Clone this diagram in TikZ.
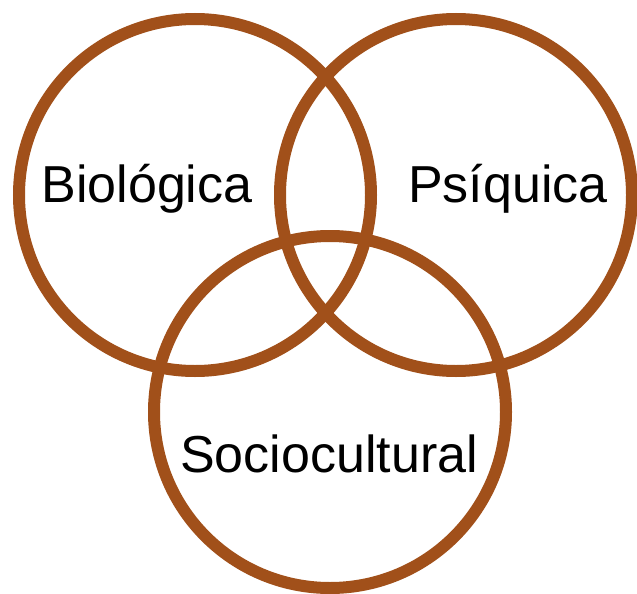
\documentclass[tikz,border=0pt]{standalone}
\usepackage{fontspec}
\setmainfont{Liberation Sans}
\usepackage{xcolor}
\usepackage{tikz}

\definecolor{ringbrown}{RGB}{161,80,26}

\begin{document}
\begin{tikzpicture}[x=1pt, y=1pt,
    ring/.style={draw=ringbrown, line width=12pt},
    every node/.style={font=\fontsize{52}{60}\selectfont, anchor=base, inner sep=0pt}]
    % Canvas: 637 x 594 (y grows downwards)
    \useasboundingbox (0,0) rectangle (637,-594);

    % Three rings, radius 176
    \draw[ring] (195,-195) circle (176);
    \draw[ring] (456,-195) circle (176);
    \draw[ring] (330,-412) circle (176);

    % Labels
    \node (bio) at (147,-202) {Biológica};
    \node (psi) at (508,-202) {Psíquica};
    \node (soc) at (329,-472) {Sociocultural};
\end{tikzpicture}
\end{document}
